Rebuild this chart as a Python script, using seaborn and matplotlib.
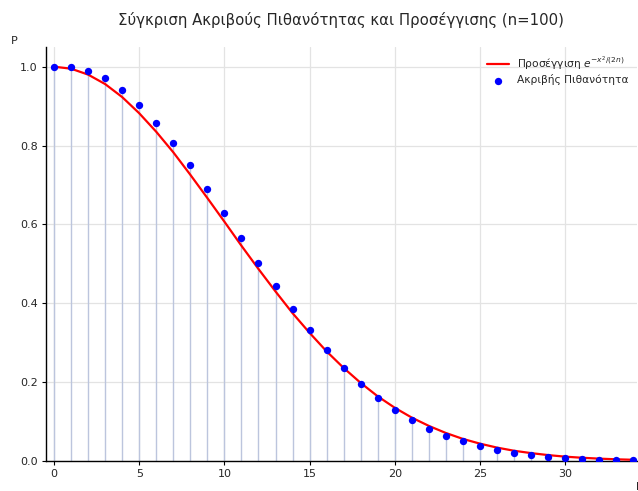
import matplotlib
matplotlib.use("Agg")
import matplotlib.pyplot as plt
import seaborn as sns
import pandas as pd

# Exact probability values at k = 0..34 (n = 100)
k_values = list(range(0, 35))
exact_prob = [1.0, 1.0, 0.99, 0.9702, 0.9411, 0.9035, 0.8583, 0.8068, 0.7503,
              0.6903, 0.6282, 0.5654, 0.5032, 0.4428, 0.3852, 0.3313, 0.2816,
              0.2365, 0.1963, 0.1610, 0.1304, 0.1043, 0.0824, 0.0643, 0.0495,
              0.0376, 0.0282, 0.0209, 0.0152, 0.0110, 0.0078, 0.0055, 0.0038,
              0.0026, 0.0017]

# Approximation curve values read at x = 0..34
approx_x = list(range(0, 35))
approx_y = [1.0, 0.995, 0.980, 0.956, 0.923, 0.882, 0.835, 0.783, 0.726, 0.667,
            0.607, 0.546, 0.487, 0.430, 0.375, 0.325, 0.278, 0.236, 0.198, 0.164,
            0.135, 0.110, 0.089, 0.071, 0.056, 0.044, 0.034, 0.026, 0.020, 0.015,
            0.011, 0.0082, 0.0060, 0.0043, 0.0031]

title = "Σύγκριση Ακριβούς Πιθανότητας και Προσέγγισης (n=100)"
label_approx = r"Προσέγγιση $e^{-x^2/(2n)}$"
label_exact = "Ακριβής Πιθανότητα"

sns.set_theme(style="whitegrid")
plt.rcParams['font.family'] = ['DejaVu Sans']

df_exact = pd.DataFrame({"k": k_values, "P": exact_prob})
df_approx = pd.DataFrame({"x": approx_x, "y": approx_y})

fig = plt.figure(figsize=(6.38, 4.91), dpi=100)
ax = fig.add_axes([0.0721, 0.0611, 0.9259, 0.8432])

ax.vlines(df_exact["k"], 0, df_exact["P"], color="#bcc5dd", linewidth=1.0, zorder=1)
sns.lineplot(data=df_approx, x="x", y="y", color="red", linewidth=1.6, ax=ax,
             label=label_approx, zorder=3)
sns.scatterplot(data=df_exact, x="k", y="P", color="blue", s=28, edgecolor="blue",
                linewidth=0, ax=ax, label=label_exact, zorder=4)

ax.set_xlim(-0.47, 34.2)
ax.set_ylim(0, 1.05)
ax.set_xticks([0, 5, 10, 15, 20, 25, 30])
ax.set_yticks([0.0, 0.2, 0.4, 0.6, 0.8, 1.0])
ax.tick_params(labelsize=8, length=3, color="black", width=0.8, pad=3)
ax.tick_params(axis="both", which="both", left=True, bottom=True)
ax.grid(True, color="#e3e3e3", linewidth=0.9)
for s in ["top", "right"]:
    ax.spines[s].set_visible(False)
for s in ["left", "bottom"]:
    ax.spines[s].set_color("black")
    ax.spines[s].set_linewidth(1.0)

ax.set_xlabel("")
ax.set_ylabel("")
fig.text(14 / 638, 1 - 41 / 491, "P", fontsize=8, ha="center", va="center")
fig.text(636 / 638, 1 - 487 / 491, "k", fontsize=8, ha="left", va="center")

ax.set_title(title, fontsize=10.75, pad=16)

leg = ax.legend(loc="upper right", frameon=False, fontsize=7.7,
                labelspacing=0.2, borderaxespad=0.2, borderpad=0.55,
                handletextpad=0.8)

fig.savefig("out.png", dpi=100)
